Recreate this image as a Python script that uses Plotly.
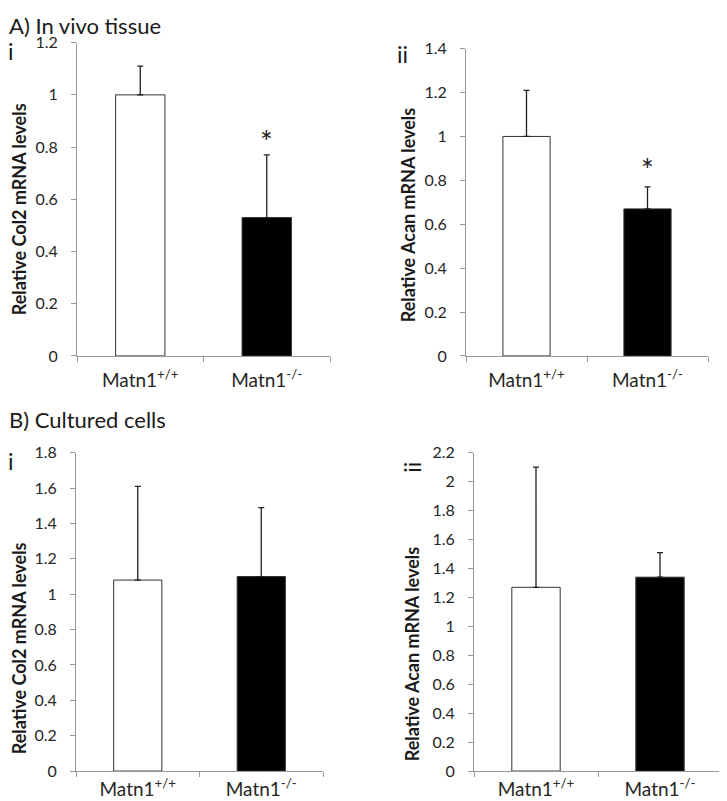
import plotly.graph_objects as go

W, H = 727, 801

categories = ["Matn1<sup>+/+</sup>", "Matn1<sup>-/-</sup>"]

ai_mean = [1.00, 0.53]
ai_err = [0.11, 0.24]
aii_mean = [1.00, 0.67]
aii_err = [0.21, 0.10]
bi_mean = [1.08, 1.10]
bi_err = [0.53, 0.39]
bii_mean = [1.27, 1.34]
bii_err = [0.83, 0.17]

y_titles = ["Relative Col2 mRNA levels", "Relative Acan mRNA levels",
            "Relative Col2 mRNA levels", "Relative Acan mRNA levels"]
y_max = [1.2, 1.4, 1.8, 2.2]
stars = [[False, True], [False, True], [False, False], [False, False]]

bar_fill = ["white", "black"]

FONT = "Lato"
TXT = "#262626"
AX = "#999999"

# The page places the figure 8px from the left and squeezes it into rows 17.3..801,
# so target picture pixels are converted to paper fractions here.
OX, OY, HR = 8.0, 17.3, 783.7


def px(t):
    return (t - OX) / W


def py(t):
    return 1 - (t - OY) / HR


# panel pixel boxes in the picture: (x0, x1, ytop, ybottom)
boxes = [(77, 330, 42, 356), (466, 708, 48, 356), (76, 323, 453, 772), (474, 722, 453, 772)]
xlabel_gap = [7, 7, 1, 1]
star_shift = [14, 18, 14, 14]

fig = go.Figure()
series = [(ai_mean, ai_err), (aii_mean, aii_err), (bi_mean, bi_err), (bii_mean, bii_err)]

for i, ((m, e), box) in enumerate(zip(series, boxes)):
    n = "" if i == 0 else str(i + 1)
    fig.add_trace(go.Bar(
        x=categories, y=m,
        marker=dict(color=bar_fill, line=dict(color="#303030", width=1)),
        error_y=dict(type="data", array=e, arrayminus=[0] * len(e), symmetric=False,
                     color="#202020", thickness=1.3, width=3),
        xaxis="x" + n, yaxis="y" + n, showlegend=False, width=0.39,
    ))
    x0, x1, yt, yb = box
    fig.layout["xaxis" + n] = dict(
        domain=[px(x0), px(x1)], anchor="y" + n, type="category",
        showline=True, linecolor=AX, linewidth=1, ticks="outside", tickson="boundaries",
        ticklen=5, tickcolor=AX, showgrid=False, fixedrange=True,
        ticklabelstandoff=xlabel_gap[i],
        tickfont=dict(family=FONT, size=19, color=TXT),
    )
    fig.layout["yaxis" + n] = dict(
        domain=[py(yb), py(yt)], anchor="x" + n, range=[0, y_max[i]], dtick=0.2,
        showline=True, linecolor=AX, linewidth=1, ticks="outside", ticklen=5, tickcolor=AX,
        showgrid=False, zeroline=False, ticksuffix="\u2002\u2009",
        tickfont=dict(family=FONT, size=16, color=TXT),
    )
    for j, s in enumerate(stars[i]):
        if s:
            fig.add_annotation(x=categories[j], y=m[j] + e[j], xref="x" + n, yref="y" + n,
                               text="*", showarrow=False, yshift=star_shift[i],
                               font=dict(family=FONT, size=30, color="#202020"))

annots = [
    ("A) In vivo tissue", 7, 25, 0, 22, "normal", "left"),
    ("B) Cultured cells", 7, 420, 0, 22, "normal", "left"),
    ("i", 11, 50, 0, 23, "normal", "center"),
    ("ii", 403, 53, 0, 23, "normal", "center"),
    ("i", 11, 461, 0, 23, "normal", "center"),
    ("ii", 412, 468, -90, 23, "normal", "center"),
    (y_titles[0], 19, 209, -90, 18, "bold", "center"),
    (y_titles[1], 408, 215, -90, 18, "bold", "center"),
    (y_titles[2], 19, 649, -90, 18, "bold", "center"),
    (y_titles[3], 412, 655, -90, 18, "bold", "center"),
]
for text, tx, ty, ang, size, weight, align in annots:
    fig.add_annotation(x=px(tx), y=py(ty), xref="paper", yref="paper", text=text,
                       showarrow=False, textangle=ang, xanchor=align, yanchor="middle",
                       font=dict(family=FONT, size=size, color="#1a1a1a", weight=weight))

fig.update_layout(width=W, height=H, margin=dict(l=0, r=0, t=0, b=0),
                  plot_bgcolor="white", paper_bgcolor="white", bargap=0.61)

fig.write_html("out.html")
